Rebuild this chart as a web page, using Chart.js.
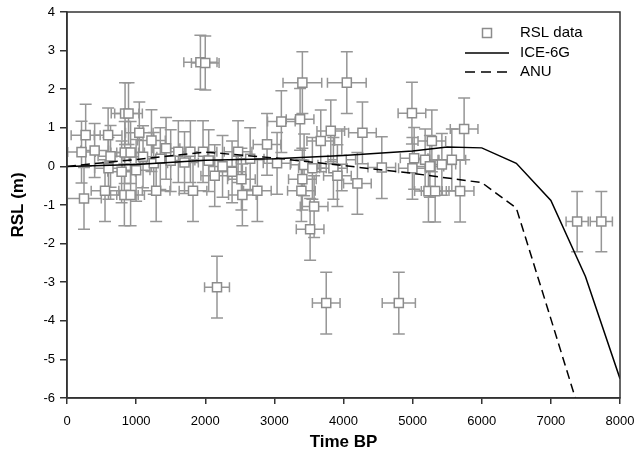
<!DOCTYPE html>
<html>
<head>
<meta charset="utf-8">
<script src="https://cdn.jsdelivr.net/npm/chart.js@4.4.1/dist/chart.umd.min.js"></script>
<style>
html,body{margin:0;padding:0;background:#fff;}
#wrap{width:637px;height:463px;position:relative;}
</style>
</head>
<body>
<div id="wrap"><canvas id="c" width="637" height="463"></canvas></div>
<script>
// ---- Data ----
const rslYears = [
  210, 270, 246, 400, 595, 630, 550, 600, 840, 890, 835, 920, 790, 830, 920, 1046, 1222, 1290, 1255, 1433, 1611, 1100, 1350, 1500, 1000,
  1785, 1968, 1823, 2137, 2388, 2475, 2523, 2537, 2754, 2894, 3101, 3039, 1700, 2050, 2250, 2650,
  3405, 4048, 3372, 3671, 3816, 4274, 3975, 3430, 3550, 3854, 3912, 3405, 3391, 4201, 3575, 3517, 4554, 4990, 4997,
  5278, 5745, 5181, 5022, 5423, 5567, 5229, 5326, 5687, 5250,
  1930, 2000, 2170, 3750, 4800, 7380, 7730
];
const rslValues = [
  0.37, 0.81, -0.83, 0.41, 0.81, 0.26, -0.63, -0.05, 1.37, 1.37, 0.36, 0.36, -0.14, -0.74, -0.74, 0.87, 0.67, -0.63, 0.08, 0.47, 0.38, 0.25, 0.2, 0.15, -0.1,
  0.38, 0.38, -0.63, -0.24, -0.14, 0.38, -0.33, -0.74, -0.63, 0.57, 1.16, 0.08, 0.1, 0.15, 0.0, 0.2,
  2.17, 2.17, 1.22, 0.66, 0.92, 0.87, 0.17, 0.04, -0.05, -0.05, -0.24, -0.33, -0.63, -0.44, -1.04, -1.63, -0.03, 1.38, -0.05,
  0.66, 0.97, 0.17, 0.21, 0.05, 0.17, -0.64, -0.64, -0.64, 0.0,
  2.70, 2.68, -3.13, -3.54, -3.54, -1.43, -1.43
];
const yearErr = [
  200, 210, 250, 200, 200, 180, 200, 200, 200, 200, 200, 200, 200, 200, 200, 200, 200, 200, 200, 200, 200, 200, 200, 200, 200,
  200, 200, 200, 200, 200, 200, 200, 200, 200, 200, 200, 200, 200, 200, 200, 200,
  280, 280, 200, 200, 200, 200, 200, 200, 200, 200, 200, 200, 200, 200, 200, 200, 200, 200, 200,
  200, 200, 200, 200, 200, 200, 200, 200, 200, 200,
  240, 200, 180, 200, 240, 160, 160
];
const rslErr = [
  0.8, 0.8, 0.8, 0.7, 0.7, 0.8, 0.8, 0.8, 0.8, 0.8, 0.8, 0.8, 0.8, 0.8, 0.8, 0.8, 0.8, 0.8, 0.8, 0.8, 0.8, 0.8, 0.8, 0.8, 0.8,
  0.8, 0.8, 0.8, 0.8, 0.8, 0.8, 0.8, 0.8, 0.8, 0.8, 0.8, 0.8, 0.8, 0.8, 0.8, 0.8,
  0.8, 0.8, 0.8, 0.8, 0.8, 0.8, 0.8, 0.8, 0.8, 0.8, 0.8, 0.8, 0.8, 0.8, 0.8, 0.8, 0.8, 0.8, 0.8,
  0.8, 0.8, 0.8, 0.8, 0.8, 0.8, 0.8, 0.8, 0.8, 0.8,
  0.7, 0.7, 0.8, 0.8, 0.8, 0.78, 0.78
];
const modelYears = [0, 1000, 2000, 3000, 4000, 5000, 5500, 6000, 6500, 7000, 7500, 8000];
const ice6g = [0, 0.05, 0.16, 0.2, 0.28, 0.4, 0.5, 0.48, 0.08, -0.88, -2.85, -5.5];
const anu   = [0, 0.18, 0.37, 0.22, 0.02, -0.18, -0.3, -0.42, -1.08, -3.95, -6.85, -9.7];
const xTicks = [0, 1000, 2000, 3000, 4000, 5000, 6000, 7000, 8000];
const yTicks = [-6, -5, -4, -3, -2, -1, 0, 1, 2, 3, 4];
const legendLabels = ['RSL data', 'ICE-6G', 'ANU'];

const FONT = '"Liberation Sans", Arial, sans-serif';
const BAR = 'rgb(150,150,150)';

const errorBars = {
  id: 'errorBars',
  beforeDatasetsDraw(chart) {
    const ctx = chart.ctx, xs = chart.scales.x, ys = chart.scales.y;
    const ca = chart.chartArea;
    ctx.save();
    ctx.beginPath();
    ctx.rect(ca.left, ca.top, ca.right - ca.left, ca.bottom - ca.top);
    ctx.clip();
    ctx.strokeStyle = BAR;
    ctx.lineWidth = 1.5;
    for (let i = 0; i < rslYears.length; i++) {
      const cx = xs.getPixelForValue(rslYears[i]);
      const cy = ys.getPixelForValue(rslValues[i]);
      const x0 = xs.getPixelForValue(rslYears[i] - yearErr[i]);
      const x1 = xs.getPixelForValue(rslYears[i] + yearErr[i]);
      const y0 = ys.getPixelForValue(rslValues[i] + rslErr[i]);
      const y1 = ys.getPixelForValue(rslValues[i] - rslErr[i]);
      ctx.beginPath();
      ctx.moveTo(x0, cy); ctx.lineTo(x1, cy);
      ctx.moveTo(x0, cy - 5); ctx.lineTo(x0, cy + 5);
      ctx.moveTo(x1, cy - 5); ctx.lineTo(x1, cy + 5);
      ctx.moveTo(cx, y0); ctx.lineTo(cx, y1);
      ctx.moveTo(cx - 6, y0); ctx.lineTo(cx + 6, y0);
      ctx.moveTo(cx - 6, y1); ctx.lineTo(cx + 6, y1);
      ctx.stroke();
    }
    ctx.restore();
  }
};

const frameAndLegend = {
  id: 'frameAndLegend',
  afterDraw(chart) {
    const ctx = chart.ctx, ca = chart.chartArea;
    ctx.save();
    ctx.strokeStyle = '#333';
    ctx.lineWidth = 1.5;
    ctx.strokeRect(ca.left, ca.top, ca.right - ca.left, ca.bottom - ca.top);
    // legend
    ctx.font = '15px ' + FONT;
    ctx.textBaseline = 'middle';
    ctx.textAlign = 'left';
    ctx.fillStyle = '#fff';
    ctx.strokeStyle = '#8c8c8c';
    ctx.lineWidth = 1.5;
    ctx.fillRect(482.5, 28.5, 9, 9);
    ctx.strokeRect(482.5, 28.5, 9, 9);
    ctx.fillStyle = '#000';
    ctx.fillText(legendLabels[0], 520, 33);
    ctx.strokeStyle = '#000';
    ctx.beginPath(); ctx.moveTo(465, 53); ctx.lineTo(509, 53); ctx.stroke();
    ctx.fillText(legendLabels[1], 520, 53);
    ctx.setLineDash([10, 6]);
    ctx.beginPath(); ctx.moveTo(465, 72); ctx.lineTo(509, 72); ctx.stroke();
    ctx.setLineDash([]);
    ctx.fillText(legendLabels[2], 520, 72);
    ctx.restore();
  }
};

new Chart(document.getElementById('c'), {
  type: 'scatter',
  data: {
    datasets: [
      {
        label: legendLabels[1], type: 'line',
        data: modelYears.map((x, i) => ({x, y: ice6g[i]})),
        borderColor: '#000', borderWidth: 1.5, pointRadius: 0, fill: false, tension: 0
      },
      {
        label: legendLabels[2], type: 'line',
        data: modelYears.map((x, i) => ({x, y: anu[i]})),
        borderColor: '#000', borderWidth: 1.5, borderDash: [9, 5], pointRadius: 0, fill: false, tension: 0
      },
      {
        label: legendLabels[0],
        data: rslYears.map((x, i) => ({x, y: rslValues[i]})),
        pointStyle: 'rect', pointRadius: 6.4, borderWidth: 1.5,
        borderColor: '#8c8c8c', backgroundColor: '#fff'
      }
    ]
  },
  options: {
    responsive: false,
    animation: false,
    layout: { padding: { top: 12, right: 17, left: 0, bottom: 0 } },
    plugins: { legend: { display: false }, tooltip: { enabled: false } },
    scales: {
      x: {
        type: 'linear', min: 0, max: 8000,
        afterBuildTicks: s => { s.ticks = xTicks.map(v => ({value: v})); },
        afterFit: s => { s.height = 65; s.paddingRight = 0; s.paddingLeft = 0; },
        ticks: { font: { size: 13, family: FONT }, color: '#000', padding: 10, maxRotation: 0, callback: v => String(v) },
        grid: { drawOnChartArea: false, drawTicks: true, tickLength: 6, color: '#333', lineWidth: 1.5 },
        border: { display: true, color: '#333', width: 1.5 },
        title: { display: true, text: 'Time BP', color: '#000', font: { size: 17, weight: 'bold', family: FONT }, padding: { top: 0, bottom: 10 } }
      },
      y: {
        type: 'linear', min: -6, max: 4,
        afterBuildTicks: s => { s.ticks = yTicks.map(v => ({value: v})); },
        afterFit: s => { s.width = 67; s.paddingTop = 0; s.paddingBottom = 0; },
        ticks: { font: { size: 13, family: FONT }, color: '#000', padding: 5, callback: v => String(v) },
        grid: { drawOnChartArea: false, drawTicks: true, tickLength: 7, color: '#333', lineWidth: 1.5 },
        border: { display: true, color: '#333', width: 1.5 },
        title: { display: true, text: 'RSL (m)', color: '#000', font: { size: 17, weight: 'bold', family: FONT }, padding: { top: 8, bottom: 0 } }
      }
    }
  },
  plugins: [errorBars, frameAndLegend]
});
</script>
</body>
</html>
